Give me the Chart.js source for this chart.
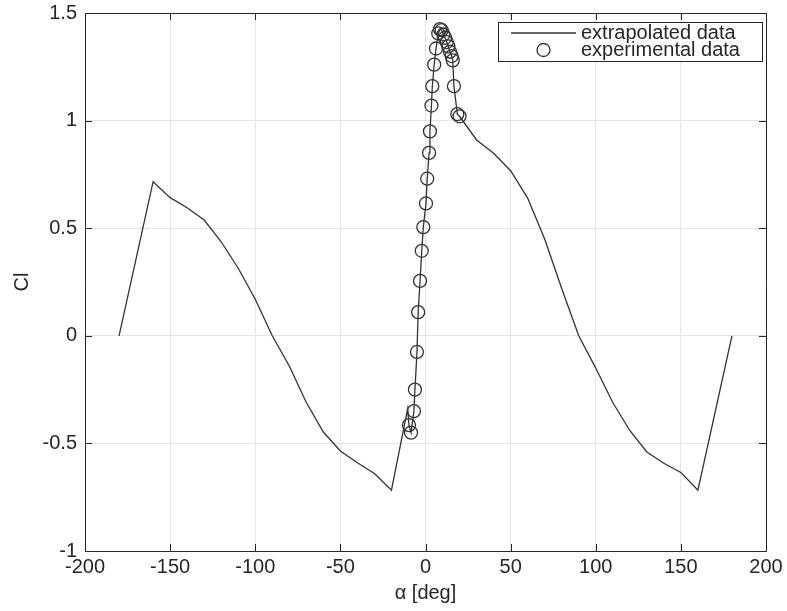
<!DOCTYPE html>
<html>
<head>
<meta charset="utf-8">
<script src="https://cdn.jsdelivr.net/npm/chart.js@4/dist/chart.umd.min.js"></script>
<style>
  html, body { margin: 0; padding: 0; background: #fff; }
  #wrap { width: 787px; height: 611px; }
</style>
</head>
<body>
<div id="wrap"><canvas id="chart" width="787" height="611"></canvas></div>
<script>
// extrapolated polar (Cl vs angle of attack), left branch, measured range, right branch
const alphaLeft = [-180, -160, -150, -140, -130, -120, -110, -100, -90, -80, -70, -60, -50, -40, -30, -20, -10.5];
const clLeft    = [0, 0.716, 0.642, 0.595, 0.538, 0.437, 0.314, 0.17, 0.0, -0.14, -0.31, -0.447, -0.535, -0.59, -0.64, -0.717, -0.34];

const alphaExp = [-9.7, -8.5, -6.8, -6.2, -5.0, -4.3, -3.2, -2.2, -1.3, 0.3, 1.0, 2.1, 2.6, 3.5, 4.0, 5.1, 6.2, 7.5, 8.5, 9.5, 10.5, 11.5, 12.5, 13.4, 14.4, 15.4, 16.0, 16.7, 18.7, 20.0];
const clExp    = [-0.415, -0.45, -0.35, -0.25, -0.075, 0.11, 0.255, 0.395, 0.505, 0.615, 0.73, 0.85, 0.95, 1.07, 1.16, 1.26, 1.335, 1.405, 1.425, 1.42, 1.40, 1.385, 1.365, 1.345, 1.32, 1.30, 1.28, 1.16, 1.03, 1.02];

const alphaRight = [30, 40, 50, 60, 70, 80, 90, 100, 110, 120, 130, 140, 150, 160, 180];
const clRight    = [0.91, 0.848, 0.767, 0.64, 0.45, 0.22, 0.0, -0.15, -0.31, -0.44, -0.54, -0.592, -0.635, -0.717, 0];

const xTicks = [-200, -150, -100, -50, 0, 50, 100, 150, 200];
const yTicks = [-1, -0.5, 0, 0.5, 1, 1.5];

const FONT = '"Liberation Sans", Arial, Helvetica, sans-serif';
const INK = '#262626';

function toPoints(xs, ys) {
    return xs.map((x, i) => ({ x: x, y: ys[i] }));
}

const linePoints = toPoints(alphaLeft, clLeft)
    .concat(toPoints(alphaExp, clExp))
    .concat(toPoints(alphaRight, clRight));
const expPoints = toPoints(alphaExp, clExp);

// box around the axes, inward ticks and the legend drawn inside the plot
const matlabAxes = {
    id: 'matlabAxes',
    afterDatasetsDraw(chart) {
        const ctx = chart.ctx;
        const { left, right, top, bottom } = chart.chartArea;
        const x = chart.scales.x, y = chart.scales.y;
        const tl = 7;
        ctx.save();
        ctx.strokeStyle = INK;
        ctx.lineWidth = 1;
        ctx.beginPath();
        ctx.rect(Math.round(left) + 0.5, Math.round(top) + 0.5, Math.round(right - left), Math.round(bottom - top));
        xTicks.forEach(v => {
            const px = Math.round(x.getPixelForValue(v)) + 0.5;
            ctx.moveTo(px, bottom); ctx.lineTo(px, bottom - tl);
            ctx.moveTo(px, top); ctx.lineTo(px, top + tl);
        });
        yTicks.forEach(v => {
            const py = Math.round(y.getPixelForValue(v)) + 0.5;
            ctx.moveTo(left, py); ctx.lineTo(left + tl, py);
            ctx.moveTo(right, py); ctx.lineTo(right - tl, py);
        });
        ctx.stroke();

        // legend
        const bx = right - 268, by = top + 9, bw = 264, bh = 39;
        ctx.fillStyle = '#fff';
        ctx.fillRect(bx, by, bw, bh);
        ctx.strokeRect(bx + 0.5, by + 0.5, bw, bh);
        const ds = chart.data.datasets;
        const rows = [by + 11, by + 28];
        const sx0 = bx + 13, sx1 = bx + 78;
        ctx.font = '20px ' + FONT;
        ctx.textBaseline = 'middle';
        ctx.fillStyle = INK;

        ctx.strokeStyle = ds[0].borderColor;
        ctx.lineWidth = ds[0].borderWidth;
        ctx.beginPath();
        ctx.moveTo(sx0, rows[0]); ctx.lineTo(sx1, rows[0]);
        ctx.stroke();
        ctx.fillText(ds[0].label, sx1 + 5, rows[0]);

        ctx.strokeStyle = ds[1].borderColor;
        ctx.lineWidth = ds[1].borderWidth;
        ctx.beginPath();
        ctx.arc((sx0 + sx1) / 2, rows[1], ds[1].pointRadius, 0, Math.PI * 2);
        ctx.stroke();
        ctx.fillText(ds[1].label, sx1 + 5, rows[1]);
        ctx.restore();
    }
};

new Chart(document.getElementById('chart').getContext('2d'), {
    type: 'scatter',
    data: {
        datasets: [{
            label: 'extrapolated data',
            data: linePoints,
            showLine: true,
            pointRadius: 0,
            borderColor: '#333333',
            borderWidth: 1.3,
            order: 2
        }, {
            label: 'experimental data',
            data: expPoints,
            showLine: false,
            pointRadius: 6.5,
            pointStyle: 'circle',
            borderColor: '#333333',
            backgroundColor: 'rgba(0,0,0,0)',
            borderWidth: 1.3,
            order: 1
        }]
    },
    options: {
        responsive: false,
        animation: false,
        devicePixelRatio: 1,
        layout: { padding: { top: 13, right: 21, left: 0, bottom: 0 } },
        plugins: {
            legend: { display: false },
            tooltip: { enabled: false }
        },
        scales: {
            x: {
                type: 'linear',
                min: -200,
                max: 200,
                afterFit: s => { s.height = 60; s.paddingLeft = 0; s.paddingRight = 0; },
                afterBuildTicks: s => { s.ticks = xTicks.map(v => ({ value: v })); },
                ticks: { color: INK, font: { family: FONT, size: 20 }, padding: 4, maxRotation: 0, callback: v => String(v) },
                grid: { color: '#e4e4e4', drawTicks: false },
                border: { display: false },
                title: { display: true, text: 'α [deg]', color: INK, font: { family: FONT, size: 20 }, padding: { top: 0, bottom: 6 } }
            },
            y: {
                type: 'linear',
                min: -1,
                max: 1.5,
                afterFit: s => { s.width = 85; s.paddingTop = 0; s.paddingBottom = 0; },
                afterBuildTicks: s => { s.ticks = yTicks.map(v => ({ value: v })); },
                ticks: { color: INK, font: { family: FONT, size: 20 }, padding: 8, callback: v => String(v) },
                grid: { color: '#e4e4e4', drawTicks: false },
                border: { display: false },
                title: { display: true, text: 'Cl', color: INK, font: { family: FONT, size: 20 }, padding: { top: 10, bottom: 0 } }
            }
        }
    },
    plugins: [matlabAxes]
});
</script>
</body>
</html>
